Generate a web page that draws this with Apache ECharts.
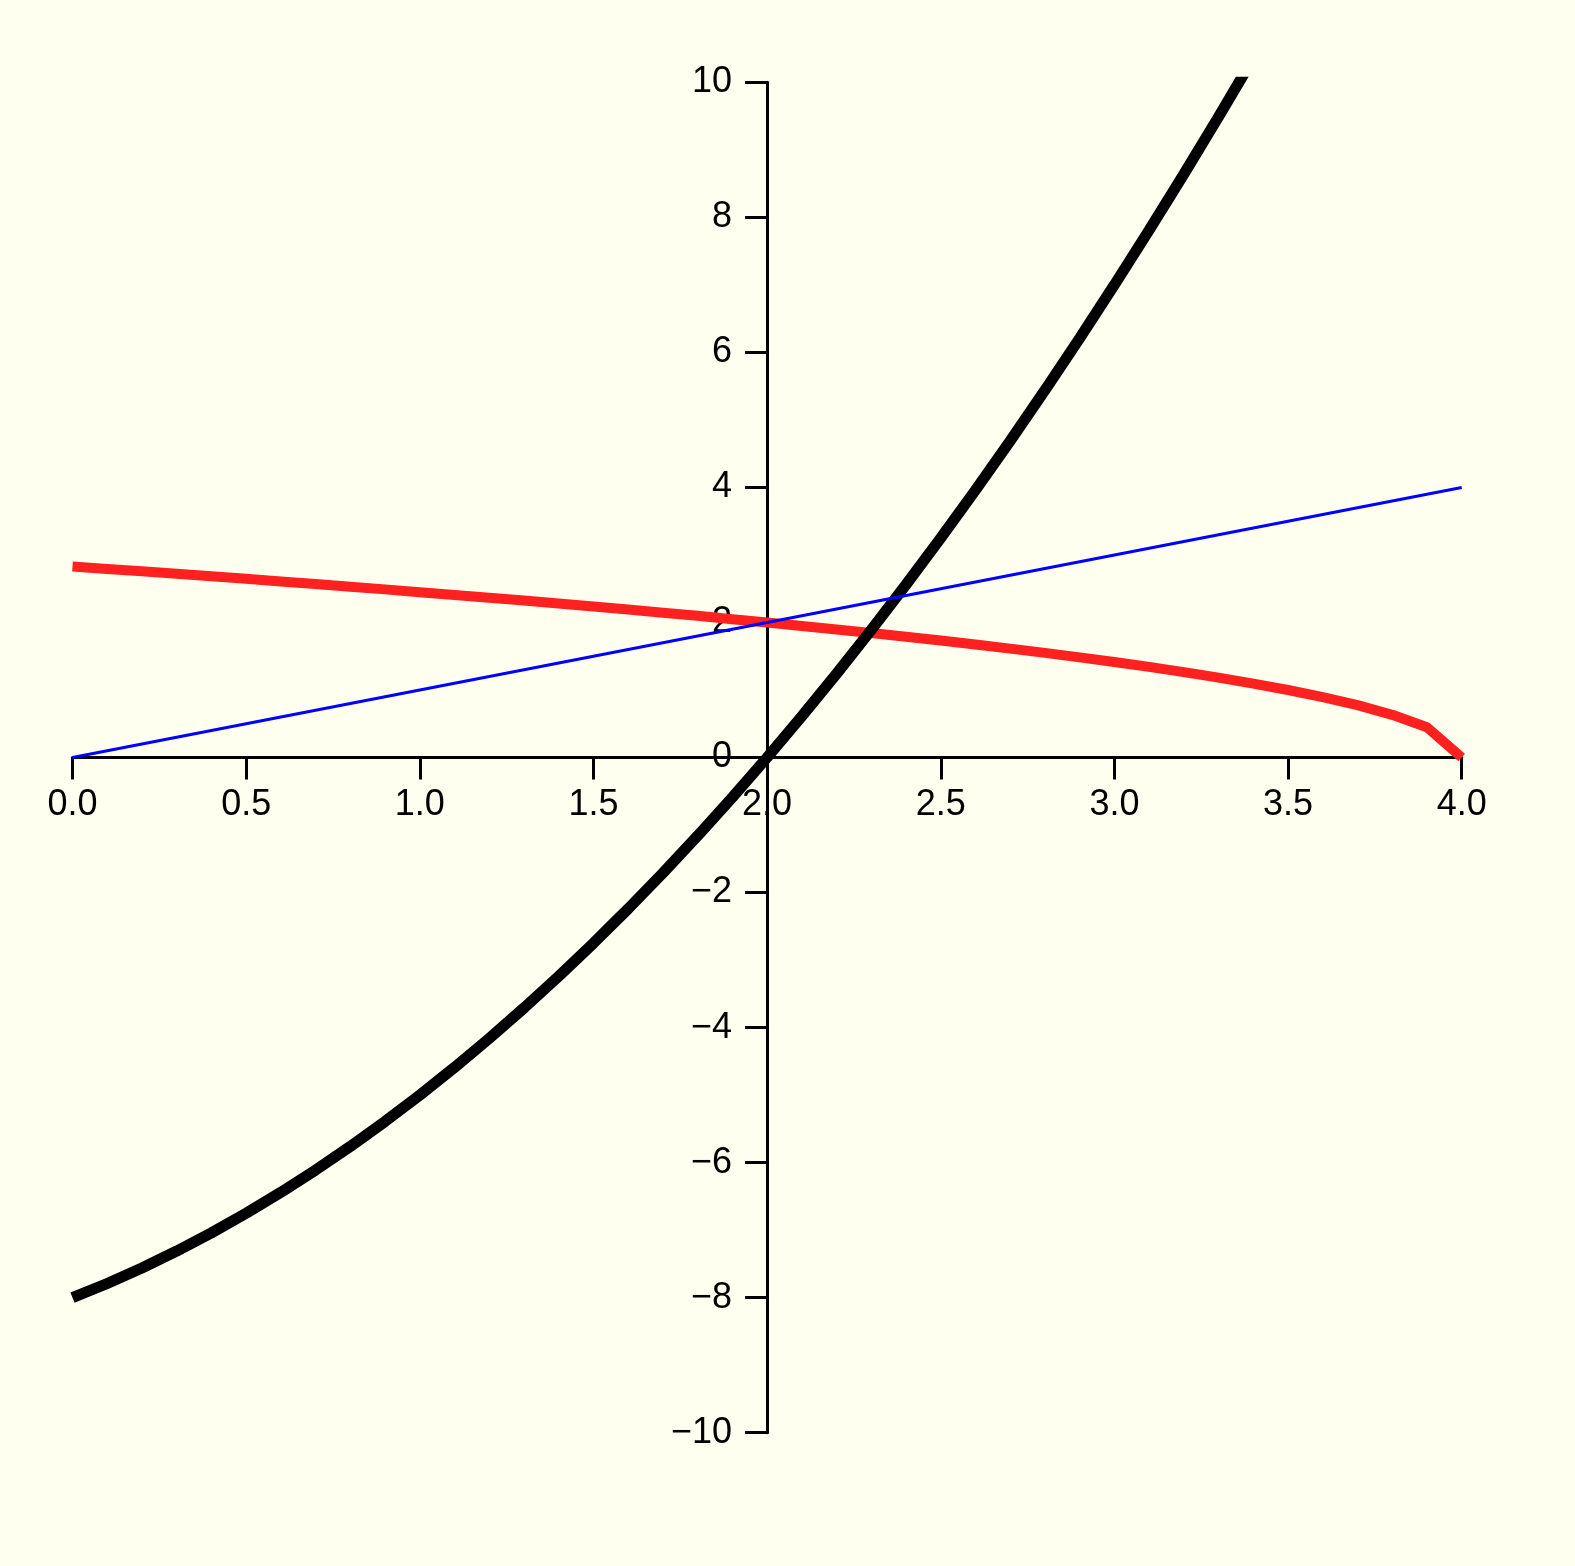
<!DOCTYPE html>
<html>
<head>
<meta charset="utf-8">
<script src="https://cdn.jsdelivr.net/npm/echarts@6/dist/echarts.min.js"></script>
<style>
html,body{margin:0;padding:0;background:#fffff0;}
#chart{width:1575px;height:1566px;}
</style>
</head>
<body>
<div id="chart"></div>
<script>
// x sample positions (step 0.1)
const xBlack = [0,0.1,0.2,0.3,0.4,0.5,0.6,0.7,0.8,0.9,1.0,1.1,1.2,1.3,1.4,1.5,1.6,1.7,1.8,1.9,2.0,2.1,2.2,2.3,2.4,2.5,2.6,2.7,2.8,2.9,3.0,3.1,3.2,3.3,3.4];
const yBlack = [-8,-7.79,-7.56,-7.31,-7.04,-6.75,-6.44,-6.11,-5.76,-5.39,-5,-4.59,-4.16,-3.71,-3.24,-2.75,-2.24,-1.71,-1.16,-0.59,0,0.61,1.24,1.89,2.56,3.25,3.96,4.69,5.44,6.21,7,7.81,8.64,9.49,10.36];
const xRed = [0,0.1,0.2,0.3,0.4,0.5,0.6,0.7,0.8,0.9,1.0,1.1,1.2,1.3,1.4,1.5,1.6,1.7,1.8,1.9,2.0,2.1,2.2,2.3,2.4,2.5,2.6,2.7,2.8,2.9,3.0,3.1,3.2,3.3,3.4,3.5,3.6,3.7,3.8,3.9,4.0];
const yRed = [2.828,2.793,2.757,2.720,2.683,2.646,2.608,2.569,2.530,2.490,2.449,2.408,2.366,2.324,2.280,2.236,2.191,2.145,2.098,2.049,2,1.949,1.897,1.844,1.789,1.732,1.673,1.612,1.549,1.483,1.414,1.342,1.265,1.183,1.095,1,0.894,0.775,0.632,0.447,0];
const xBlue = [0,4];
const yBlue = [0,4];
const xTicks = [0,0.5,1,1.5,2,2.5,3,3.5,4];
const yTicks = [-10,-8,-6,-4,-2,0,2,4,6,8,10];

function pairs(xs, ys){ return xs.map((x,i)=>[x, ys[i]]); }

const chart = echarts.init(document.getElementById('chart'), null, {renderer:'canvas'});
const font = 'Liberation Sans, Arial, sans-serif';
const gridLeft = 72.5, gridRight = 113.3, gridTop = 82.3, gridBottom = 133.3;
const plotW = 1575 - gridLeft - gridRight;
const plotH = 1566 - gridTop - gridBottom;
chart.setOption({
  backgroundColor: '#fffff0',
  animation: false,
  grid: {left: gridLeft, right: gridRight, top: gridTop, bottom: gridBottom},
  xAxis: {
    type: 'value', min: xTicks[0], max: xTicks[xTicks.length-1], interval: 0.5,
    position: 'bottom', offset: -plotH/2,
    splitLine: {show: false},
    axisLine: {onZero: false, lineStyle: {color: '#000', width: 3}},
    axisTick: {show: true, length: 22, lineStyle: {color: '#000', width: 3}},
    axisLabel: {color: '#000', fontSize: 36, fontFamily: font, margin: 30,
      formatter: v => v.toFixed(1)}
  },
  yAxis: {
    type: 'value', min: yTicks[0], max: yTicks[yTicks.length-1], interval: 2,
    position: 'left', offset: -plotW/2,
    splitLine: {show: false},
    axisLine: {show: true, onZero: false, lineStyle: {color: '#000', width: 3}},
    axisTick: {show: true, length: 22, lineStyle: {color: '#000', width: 3}},
    axisLabel: {color: '#000', fontSize: 36, fontFamily: font, margin: 35,
      formatter: v => String(v).replace('-', '\u2212')}
  },
  series: [
    {type: 'line', data: pairs(xRed, yRed), symbol: 'none', clip: true,
      lineStyle: {color: '#ff2020', width: 10}},
    {type: 'line', data: pairs(xBlack, yBlack), symbol: 'none', clip: true,
      lineStyle: {color: '#000000', width: 11}},
    {type: 'line', data: pairs(xBlue, yBlue), symbol: 'none', clip: true,
      lineStyle: {color: '#0000ff', width: 3}}
  ]
});
</script>
</body>
</html>
